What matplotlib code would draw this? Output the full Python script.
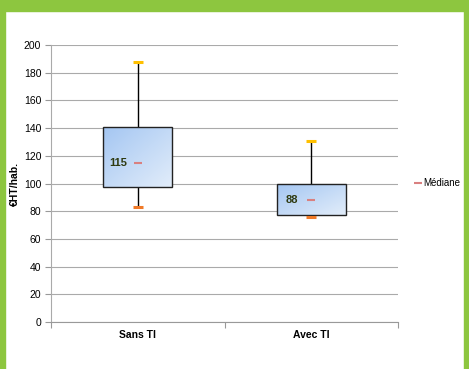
import numpy as np
import matplotlib.pyplot as plt
from matplotlib.patches import Rectangle

plt.rcParams['font.family'] = ['Liberation Sans', 'DejaVu Sans']

# Box plot statistics (€HT/hab.)
categories = ["Sans TI", "Avec TI"]
q_low = [97.5, 77]
q_high = [141, 100]
v_min = [83, 76]
v_max = [188, 131]
medians = [115, 88]

green = "#8dc63f"

fig = plt.figure(figsize=(4.69, 3.69), dpi=100)
fig.patch.set_facecolor("white")

# green frame around the chart
fig.patches.append(Rectangle((0, 0), 5 / 469, 1, transform=fig.transFigure, color=green, zorder=0))
fig.patches.append(Rectangle((0, 1 - 11 / 369), 1, 11 / 369, transform=fig.transFigure, color=green, zorder=0))
fig.patches.append(Rectangle((1 - 5 / 469, 0), 5 / 469, 1, transform=fig.transFigure, color=green, zorder=0))

ax = fig.add_axes([51 / 469, 1 - 322 / 369, 347 / 469, 277 / 369])
ax.set_xlim(0, 2)
ax.set_ylim(0, 200)
ax.set_yticks(np.arange(0, 201, 20))
ax.set_xticks([0, 1, 2])
ax.set_xticklabels([])
ax.set_xticks([0.5, 1.5], minor=True)
ax.set_xticklabels(categories, minor=True, fontsize=7.5, fontweight="bold")
ax.tick_params(axis="x", which="minor", length=0, pad=6)
ax.tick_params(axis="x", which="major", length=4, color="#999999")
ax.tick_params(axis="y", labelsize=7.5, length=4, color="#999999", pad=3)
ax.grid(axis="y", color="#aaaaaa", linewidth=0.8)
ax.set_axisbelow(True)
for side in ["top", "right"]:
    ax.spines[side].set_visible(False)
ax.spines["left"].set_color("#aaaaaa")
ax.spines["bottom"].set_color("#999999")
ax.set_ylabel("€HT/hab.", fontsize=7.5, fontweight="bold", labelpad=3)

# diagonal light-blue gradient used to fill the boxes (darker at top-left)
gx, gy = np.meshgrid(np.linspace(0, 1, 64), np.linspace(0, 1, 64))
grad = (gx + gy) / 2
cmap = plt.matplotlib.colors.LinearSegmentedColormap.from_list("box", ["#a4c6f2", "#e2edfa"])

width = 0.4
for i in range(len(categories)):
    xc = i + 0.5
    ax.plot([xc, xc], [v_min[i], v_max[i]], color="black", linewidth=1, zorder=2)
    im = ax.imshow(grad, cmap=cmap, extent=[xc - width / 2, xc + width / 2, q_low[i], q_high[i]],
                   aspect="auto", origin="upper", zorder=3)
    rect = Rectangle((xc - width / 2, q_low[i]), width, q_high[i] - q_low[i],
                     facecolor="none", edgecolor="#222222", linewidth=1, zorder=4)
    ax.add_patch(rect)
    im.set_clip_path(rect)
    ax.plot(xc, v_max[i], marker="_", markersize=7, markeredgewidth=2.2, color="#ffc000", zorder=5)
    ax.plot(xc, v_min[i], marker="_", markersize=7, markeredgewidth=2.2, color="#f07a28", zorder=5)
    ax.plot(xc, medians[i], marker="_", markersize=6, markeredgewidth=1.5, color="#d98080", zorder=5)
    ax.text(xc - 0.11, medians[i], str(medians[i]), ha="center", va="center",
            fontsize=8, fontweight="bold", color="#2f3a10", zorder=6)
ax.set_xlim(0, 2)
ax.set_ylim(0, 200)

# legend entry for the median marker
ax.plot([], [], marker="_", linestyle="none", markersize=6, markeredgewidth=1.5,
        color="#d98080", label="Médiane")
ax.legend(loc="center left", bbox_to_anchor=(1.035, 0.5), frameon=False, fontsize=7,
          handlelength=0.8, handletextpad=0.1, borderaxespad=0)

fig.savefig("out.png", dpi=100)
